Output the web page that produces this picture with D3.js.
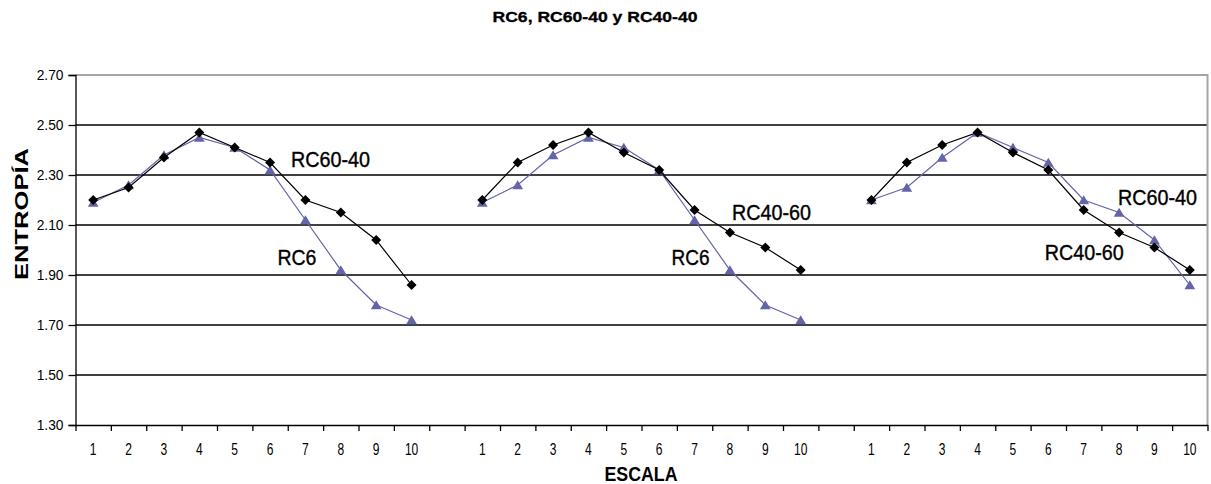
<!DOCTYPE html>
<html>
<head>
<meta charset="utf-8">
<script src="https://cdn.jsdelivr.net/npm/d3@7"></script>
<style>
  html, body { margin: 0; padding: 0; background: #fff; }
  svg { display: block; font-family: "Liberation Sans", Arial, sans-serif; }
</style>
</head>
<body>
<svg id="chart" width="1211" height="484"></svg>
<script>
// Entropy by scale (1..10) for the three compared series
const scales = ["1", "2", "3", "4", "5", "6", "7", "8", "9", "10"];
const rc6    = [2.19, 2.26, 2.38, 2.45, 2.41, 2.32, 2.12, 1.92, 1.78, 1.72];
const rc6040 = [2.20, 2.25, 2.37, 2.47, 2.41, 2.35, 2.20, 2.15, 2.04, 1.86];
const rc4060 = [2.20, 2.35, 2.42, 2.47, 2.39, 2.32, 2.16, 2.07, 2.01, 1.92];
const yTicks = [1.30, 1.50, 1.70, 1.90, 2.10, 2.30, 2.50, 2.70];

// three side-by-side groups separated by an empty category
const panels = [
  { offset: 0,  black: rc6040, blue: rc6 },
  { offset: 11, black: rc4060, blue: rc6 },
  { offset: 22, black: rc4060, blue: rc6040 }
];
// series names written next to the curves (anchored at a scale / entropy position)
const seriesLabels = [
  { panel: 0, text: "RC60-40", scale: 6, value: 2.332, dx: 21,  width: 79 },
  { panel: 0, text: "RC6",     scale: 7, value: 1.94,  dx: -28, width: 39 },
  { panel: 1, text: "RC40-60", scale: 8, value: 2.12,  dx: 2,   width: 79 },
  { panel: 1, text: "RC6",     scale: 7, value: 1.94,  dx: -23, width: 38 },
  { panel: 2, text: "RC60-40", scale: 8, value: 2.18,  dx: -1,  width: 79 },
  { panel: 2, text: "RC40-60", scale: 7, value: 1.96,  dx: -39, width: 79 }
];

const nCats = panels.length * scales.length + panels.length - 1;
const cats = d3.range(nCats);
const catLabel = i => { const r = i % 11; return r < 10 ? scales[r] : ""; };

const plotLeft = 75.5, plotRight = 1207.5, plotTop = 75, plotBottom = 425;
const svg = d3.select("#chart");

const x = d3.scaleBand().domain(cats).range([plotLeft, plotRight]).padding(0);
const xEdge = d3.scaleLinear().domain([0, nCats]).range([plotLeft, plotRight]);
const y = d3.scaleLinear().domain([1.3, 2.7]).range([plotBottom, plotTop]);

// horizontal gridlines
svg.append("g").selectAll("line")
  .data(yTicks.filter(v => v > 1.3 && v < 2.7))
  .join("line")
  .attr("x1", plotLeft).attr("x2", plotRight)
  .attr("y1", d => y(d)).attr("y2", d => y(d))
  .attr("stroke", "#000").attr("stroke-width", 1.6);

// plot frame: grey top and right edges
svg.append("path")
  .attr("d", `M${plotLeft},${y(2.7)}H${plotRight}V${plotBottom}`)
  .attr("fill", "none").attr("stroke", "#a6a6a6").attr("stroke-width", 2);

// y axis
const yAxis = svg.append("g")
  .attr("transform", `translate(${plotLeft},0)`)
  .call(d3.axisLeft(y).tickValues(yTicks).tickFormat(d3.format(".2f")).tickSize(7).tickPadding(5));
yAxis.select(".domain").attr("stroke", "#000").attr("stroke-width", 1.3);
yAxis.selectAll(".tick line").attr("stroke", "#000").attr("stroke-width", 1.3);
yAxis.selectAll(".tick text").attr("font-size", 15).attr("fill", "#000")
  .attr("font-family", "'Liberation Sans', Arial, sans-serif")
  .each(function () {
    const w = this.getComputedTextLength();
    d3.select(this).attr("textLength", w * 0.92).attr("lengthAdjust", "spacingAndGlyphs");
  });

// x axis: tick marks on category edges
const xTickAxis = svg.append("g")
  .attr("transform", `translate(0,${plotBottom})`)
  .call(d3.axisBottom(xEdge).tickValues(d3.range(nCats + 1)).tickFormat("").tickSize(6).tickSizeOuter(0));
xTickAxis.select(".domain").attr("stroke", "#000").attr("stroke-width", 1.6);
xTickAxis.selectAll(".tick line").attr("stroke", "#000").attr("stroke-width", 1.3);

// x axis: category labels centred in each band
const xLabAxis = svg.append("g")
  .attr("transform", `translate(0,${plotBottom})`)
  .call(d3.axisBottom(x).tickFormat(catLabel).tickSize(0).tickPadding(19));
xLabAxis.select(".domain").remove();
xLabAxis.selectAll(".tick text").attr("font-size", 16).attr("fill", "#000")
  .attr("font-family", "'Liberation Sans', Arial, sans-serif")
  .each(function () {
    const w = this.getComputedTextLength();
    if (w > 0) d3.select(this).attr("textLength", w * 0.75).attr("lengthAdjust", "spacingAndGlyphs");
  });

// series
const line = d3.line()
  .x(d => x(d.cat) + x.bandwidth() / 2)
  .y(d => y(d.v));
const diamond = "M0,-5L5,0L0,5L-5,0Z";
const triangle = "M0,-4.8L5.4,4.2L-5.4,4.2Z";

panels.forEach(p => {
  const blue = p.blue.map((v, i) => ({ cat: p.offset + i, v }));
  const black = p.black.map((v, i) => ({ cat: p.offset + i, v }));
  const g = svg.append("g");

  g.append("path").datum(blue).attr("d", line)
    .attr("fill", "none").attr("stroke", "#6464aa").attr("stroke-width", 1.2);
  g.selectAll(".tri").data(blue).join("path").attr("class", "tri")
    .attr("d", triangle)
    .attr("transform", d => `translate(${x(d.cat) + x.bandwidth() / 2},${y(d.v)})`)
    .attr("fill", "#6464aa");

  g.append("path").datum(black).attr("d", line)
    .attr("fill", "none").attr("stroke", "#000").attr("stroke-width", 1.2);
  g.selectAll(".dia").data(black).join("path").attr("class", "dia")
    .attr("d", diamond)
    .attr("transform", d => `translate(${x(d.cat) + x.bandwidth() / 2},${y(d.v)})`)
    .attr("fill", "#000");
});

// series name labels
svg.append("g").selectAll("text").data(seriesLabels).join("text")
  .attr("x", d => x(panels[d.panel].offset + d.scale - 1) + x.bandwidth() / 2 + d.dx)
  .attr("y", d => y(d.value))
  .attr("font-size", 22)
  .attr("textLength", d => d.width)
  .attr("lengthAdjust", "spacingAndGlyphs")
  .attr("fill", "#000")
  .attr("stroke", "#000").attr("stroke-width", 0.4)
  .text(d => d.text);

// titles
svg.append("text")
  .attr("x", 595).attr("y", 22)
  .attr("text-anchor", "middle")
  .attr("font-size", 14).attr("font-weight", "bold")
  .attr("stroke", "#000").attr("stroke-width", 0.3)
  .attr("textLength", 205).attr("lengthAdjust", "spacingAndGlyphs")
  .text("RC6, RC60-40 y RC40-40");

svg.append("text")
  .attr("transform", "translate(28,214) rotate(-90)")
  .attr("text-anchor", "middle")
  .attr("font-size", 18).attr("font-weight", "bold")
  .attr("textLength", 132).attr("lengthAdjust", "spacingAndGlyphs")
  .text("ENTROPÍA");

svg.append("text")
  .attr("x", 641).attr("y", 481)
  .attr("text-anchor", "middle")
  .attr("font-size", 21).attr("font-weight", "bold")
  .attr("textLength", 73).attr("lengthAdjust", "spacingAndGlyphs")
  .text("ESCALA");
</script>
</body>
</html>
